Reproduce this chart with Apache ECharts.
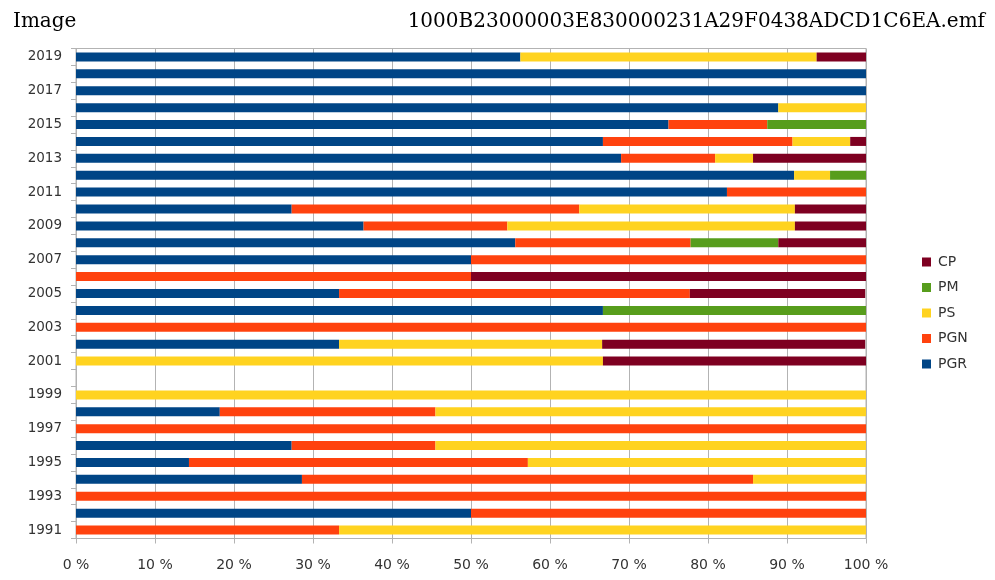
<!DOCTYPE html>
<html>
<head>
<meta charset="utf-8">
<script src="https://cdn.jsdelivr.net/npm/echarts@6/dist/echarts.min.js"></script>
<style>
  html, body { margin: 0; padding: 0; background: #fff; }
  #chart { width: 995px; height: 580px; }
</style>
</head>
<body>
<div id="chart"></div>
<script>
// years, bottom to top
const years = ['1991', '1992', '1993', '1994', '1995', '1996', '1997', '1998', '1999', '2000',
  '2001', '2002', '2003', '2004', '2005', '2006', '2007', '2008', '2009', '2010',
  '2011', '2012', '2013', '2014', '2015', '2016', '2017', '2018', '2019']

// share in % per year
const pgr = [0, 50, 0, 28.6, 14.3, 27.3, 0, 18.2, 0, 0,
  0, 33.3, 0, 66.7, 33.3, 0, 50, 55.6, 36.4, 27.3,
  82.4, 90.9, 69.0, 66.7, 75, 88.9, 100, 100, 56.25]
const pgn = [33.3, 50, 100, 57.1, 42.9, 18.2, 100, 27.3, 0, 0,
  0, 0, 100, 0, 44.4, 50, 50, 22.2, 18.2, 36.4,
  17.6, 0, 11.9, 24.0, 12.5, 0, 0, 0, 0]
const ps = [66.7, 0, 0, 14.3, 42.9, 54.5, 0, 54.5, 100, 0,
  66.7, 33.3, 0, 0, 0, 0, 0, 0, 36.4, 27.3,
  0, 4.55, 4.8, 7.3, 0, 11.1, 0, 0, 37.5]
const pm = [0, 0, 0, 0, 0, 0, 0, 0, 0, 0,
  0, 0, 0, 33.3, 0, 0, 0, 11.1, 0, 0,
  0, 4.55, 0, 0, 12.5, 0, 0, 0, 0]
const cp = [0, 0, 0, 0, 0, 0, 0, 0, 0, 0,
  33.3, 33.3, 0, 0, 22.2, 50, 0, 11.1, 9.1, 9.1,
  0, 0, 14.3, 2.0, 0, 0, 0, 0, 6.25]

const seriesNames = ['PGR', 'PGN', 'PS', 'PM', 'CP']
const seriesData = [pgr, pgn, ps, pm, cp]
const colors = ['#004586', '#ff420e', '#ffd320', '#579d1c', '#7e0021']

let chart = echarts.init(document.getElementById('chart'))

let options = {
  animation: false,
  color: colors,
  title: [
    {
      text: 'Image',
      left: 8,
      top: 7,
      textStyle: { fontFamily: 'DejaVu Serif', fontSize: 20, fontWeight: 'normal', color: '#000' }
    },
    {
      text: '1000B23000003E830000231A29F0438ADCD1C6EA.emf',
      right: 5,
      top: 7,
      textStyle: { fontFamily: 'DejaVu Serif', fontSize: 20, fontWeight: 'normal', color: '#000' }
    }
  ],
  legend: {
    orient: 'vertical',
    left: 917,
    top: 250,
    itemWidth: 9,
    itemHeight: 9,
    itemGap: 11.5,
    icon: 'rect',
    data: seriesNames.slice().reverse(),
    textStyle: { fontFamily: 'DejaVu Sans', fontSize: 14, color: '#333', padding: [0, 0, 0, 2] }
  },
  grid: {
    left: 76,
    right: 129,
    top: 48.5,
    bottom: 41.5,
    show: true,
    borderColor: '#b3b3b3',
    borderWidth: 1
  },
  xAxis: {
    type: 'value',
    min: 0,
    max: 100,
    interval: 10,
    axisLine: { show: true, lineStyle: { color: '#b3b3b3' } },
    axisTick: { show: true, length: 5, lineStyle: { color: '#b3b3b3' } },
    axisLabel: {
      margin: 20,
      formatter: '{value} %',
      fontFamily: 'DejaVu Sans',
      fontSize: 14,
      color: '#333'
    },
    splitLine: { show: true, lineStyle: { color: '#b3b3b3', width: 1 } }
  },
  yAxis: {
    type: 'category',
    data: years,
    axisLine: { show: true, lineStyle: { color: '#b3b3b3' } },
    axisTick: { show: true, length: 5, interval: 0, lineStyle: { color: '#b3b3b3' } },
    axisLabel: {
      interval: 1,
      margin: 14,
      fontFamily: 'DejaVu Sans',
      fontSize: 13.5,
      color: '#333'
    },
    splitLine: { show: false }
  },
  series: seriesNames.map((name, i) => ({
    name: name,
    type: 'bar',
    stack: 'total',
    barWidth: 9,
    data: seriesData[i]
  }))
}

chart.setOption(options)
</script>
</body>
</html>
